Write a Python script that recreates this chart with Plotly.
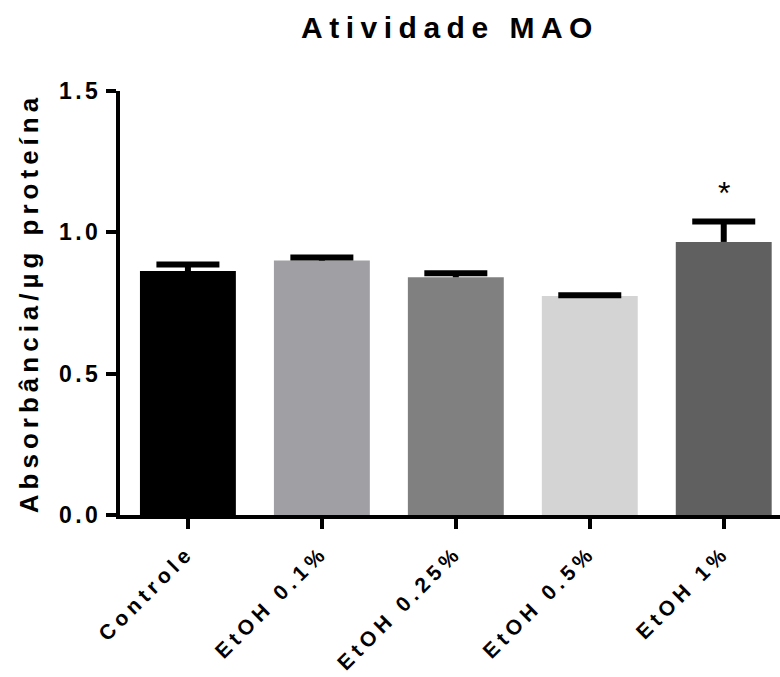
import plotly.graph_objects as go

categories = ["Controle", "EtOH 0.1%", "EtOH 0.25%", "EtOH 0.5%", "EtOH 1%"]
values = [0.863, 0.900, 0.841, 0.775, 0.966]
sem = [0.023, 0.011, 0.014, 0.002, 0.072]
bar_colors = ["#000000", "#a09fa4", "#808080", "#d4d4d4", "#606060"]
y_ticks = [0.0, 0.5, 1.0, 1.5]
significance = ["", "", "", "", "*"]

FONT = "Arial, 'Liberation Sans', sans-serif"
xs = list(range(len(categories)))

fig = go.Figure()
fig.add_trace(go.Bar(
    x=xs,
    y=values,
    marker=dict(color=bar_colors, line=dict(width=0)),
    width=0.716,
    showlegend=False,
    hoverinfo="skip",
))
# upward-only SEM bars: stem + cap at the top
tops = [v + s for v, s in zip(values, sem)]
fig.add_trace(go.Scatter(
    x=xs, y=tops, mode="markers",
    marker=dict(symbol="line-ew", size=45, color="#000000",
                line=dict(width=6, color="#000000")),
    error_y=dict(type="data", array=[0] * len(sem), arrayminus=sem, symmetric=False,
                 color="#000000", thickness=6, width=0),
    showlegend=False,
    hoverinfo="skip",
))

for i, s in enumerate(significance):
    if s:
        fig.add_annotation(x=i, y=tops[i], text=s, showarrow=False,
                           yanchor="bottom", yshift=9,
                           font=dict(family=FONT, size=32, color="#000000"))

fig.update_layout(
    width=780, height=677,
    margin=dict(l=120, r=0, t=91, b=162),
    plot_bgcolor="white", paper_bgcolor="white",
    title=dict(text="<b>Atividade MAO</b>", x=0.5, xref="paper", xanchor="center",
               y=0.96, yref="container", yanchor="middle",
               font=dict(family=FONT, size=30, color="#000000")),
    font=dict(family=FONT, color="#000000"),
)
fig.update_xaxes(
    range=[-0.507, 4.42],
    tickvals=xs, ticktext=[f"<b>{c}</b>" for c in categories],
    tickangle=-45,
    showline=True, linewidth=4, linecolor="#000000",
    ticks="outside", ticklen=10, tickwidth=4, tickcolor="#000000",
    tickfont=dict(family=FONT, size=21, color="#000000"),
    ticklabelstandoff=3,
    showgrid=False, zeroline=False,
)
fig.update_yaxes(
    range=[0, 1.5],
    tickvals=y_ticks, ticktext=[f"<b>{v:.1f}</b>" for v in y_ticks],
    showline=True, linewidth=4, linecolor="#000000",
    ticks="outside", ticklen=10, tickwidth=4, tickcolor="#000000",
    tickfont=dict(family=FONT, size=23, color="#000000"),
    showgrid=False, zeroline=False,
    title=dict(text="<b>Absorbância/µg proteína</b>", standoff=24,
               font=dict(family=FONT, size=26, color="#000000")),
)

css = """
document.body.style.margin = '0';
var st = document.createElement('style');
st.textContent = '.gtitle{letter-spacing:6.5px;} .xtick text{letter-spacing:4.8px;} .ytick text{letter-spacing:3.5px;} .ytitle{letter-spacing:5px;}';
document.head.appendChild(st);
"""
fig.write_html("out.html", post_script=css, config={"displayModeBar": False})
